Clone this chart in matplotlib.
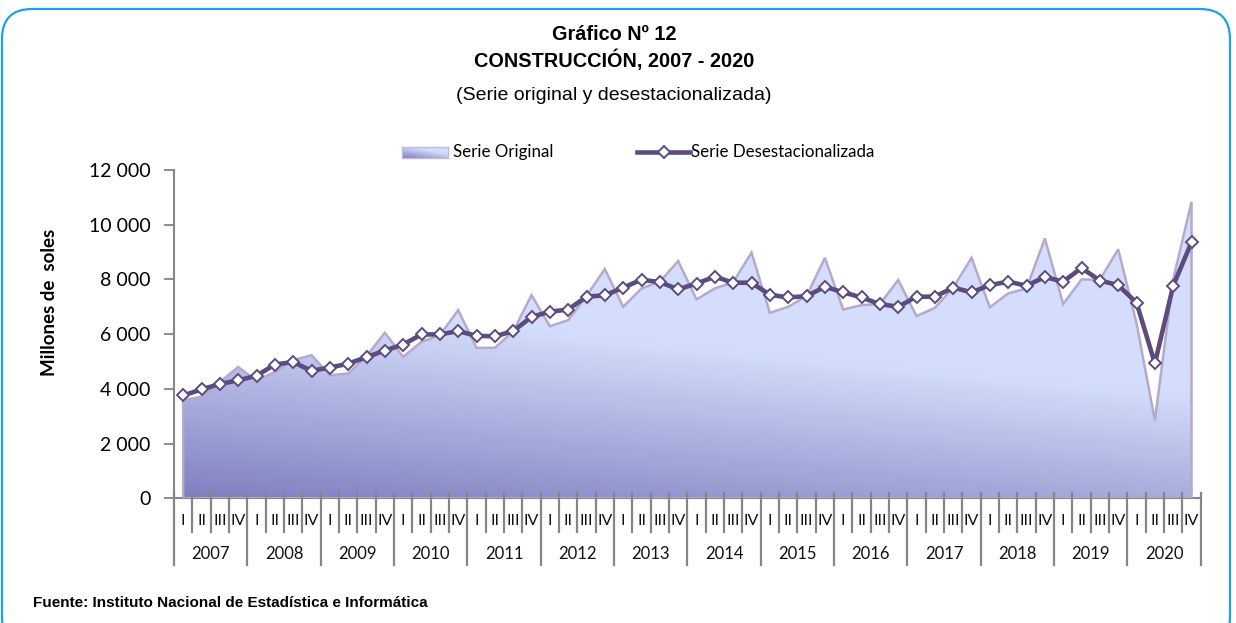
import numpy as np
import matplotlib
matplotlib.use("Agg")
import matplotlib.pyplot as plt
from matplotlib.patches import Polygon, FancyBboxPatch
from matplotlib.lines import Line2D
from matplotlib.colors import to_rgb
import matplotlib.transforms as mtransforms

# ---- data (millones de soles, quarterly) ----
years = ["2007", "2008", "2009", "2010", "2011", "2012", "2013",
         "2014", "2015", "2016", "2017", "2018", "2019", "2020"]
quarters = ["I", "II", "III", "IV"]

serie_original = [
    3590, 3710, 4250, 4800,
    4300, 4620, 5050, 5230,
    4500, 4560, 5200, 6050,
    5170, 5720, 5960, 6880,
    5500, 5500, 6100, 7430,
    6290, 6510, 7400, 8380,
    7000, 7670, 7920, 8670,
    7270, 7670, 7900, 8980,
    6780, 7000, 7390, 8790,
    6900, 7060, 7100, 7980,
    6660, 6960, 7700, 8790,
    6980, 7490, 7670, 9500,
    7100, 8000, 7990, 9100,
    6400, 2850, 8000, 10840,
]

serie_desest = [
    3760, 3980, 4180, 4310,
    4480, 4890, 4980, 4660,
    4780, 4920, 5160, 5400,
    5620, 5990, 5990, 6110,
    5940, 5920, 6110, 6630,
    6820, 6900, 7370, 7420,
    7700, 7990, 7900, 7640,
    7850, 8100, 7880, 7880,
    7440, 7340, 7390, 7730,
    7530, 7340, 7100, 7000,
    7370, 7370, 7700, 7530,
    7790, 7920, 7770, 8090,
    7920, 8420, 7960, 7790,
    7150, 4930, 7770, 9360,
]

y_ticks = [0, 2000, 4000, 6000, 8000, 10000, 12000]

# ---- styling ----
TICK_FONT = ["Lato", "DejaVu Sans"]
TITLE_FONT = ["Liberation Sans", "DejaVu Sans"]
AXIS_GRAY = "#868686"
LINE_PURPLE = "#5b4b7f"
AREA_EDGE = "#b7a9cb"
GRAD_DARK = np.array(to_rgb("#7f7fbf"))
GRAD_LIGHT = np.array(to_rgb("#d4defc"))

W, H = 1236, 623
fig = plt.figure(figsize=(W / 100, H / 100), dpi=100)

# rounded frame around the whole graphic
frame = FancyBboxPatch((0.02, -0.24), 12.28, 6.38,
                       boxstyle="round,pad=0,rounding_size=0.3",
                       transform=fig.dpi_scale_trans, facecolor="none",
                       edgecolor="#1e9ff2", linewidth=1.6, zorder=0)
fig.patches.append(frame)

ax_left, ax_right = 174, 1200.7
ax_bottom, ax_top = 498.3, 170
ax = fig.add_axes([ax_left / W, 1 - ax_bottom / H,
                   (ax_right - ax_left) / W, (ax_bottom - ax_top) / H])

n = len(serie_original)
x = np.arange(n)
xmin, xmax, ymin, ymax = -0.5, n - 0.5, 0, 12000


def gradient_image(nx, ny, slope=0.3, span=0.62):
    u = np.linspace(0, 1, nx)[None, :]
    v = np.linspace(0, 1, ny)[:, None]
    t = np.clip((v + slope * u) / span, 0, 1)[..., None]
    return GRAD_DARK * (1 - t) + GRAD_LIGHT * t


# area for the original series with a gradient fill
verts = [(x[0], 0)] + list(zip(x, serie_original)) + [(x[-1], 0)]
area = Polygon(verts, closed=True, facecolor="none", edgecolor=AREA_EDGE,
               linewidth=1.8, zorder=3)
ax.add_patch(area)
img = ax.imshow(gradient_image(500, 400), extent=(xmin, xmax, ymin, ymax),
                origin="lower", aspect="auto", zorder=2, interpolation="bilinear")
img.set_clip_path(area)

# seasonally adjusted series
ax.plot(x, serie_desest, color=LINE_PURPLE, linewidth=3.3, marker="D",
        markersize=6.2, markerfacecolor="white", markeredgecolor=LINE_PURPLE,
        markeredgewidth=1.4, zorder=5, solid_joinstyle="round")

ax.set_xlim(xmin, xmax)
ax.set_ylim(ymin, ymax)

for side in ("top", "right"):
    ax.spines[side].set_visible(False)
for side in ("left", "bottom"):
    ax.spines[side].set_color(AXIS_GRAY)
    ax.spines[side].set_linewidth(1.5)

ax.set_yticks(y_ticks)
ax.set_yticklabels([f"{v:,.0f}".replace(",", " ") for v in y_ticks],
                   fontfamily=TICK_FONT, fontsize=14)
ax.tick_params(axis="y", direction="out", length=7, width=1.3,
               color=AXIS_GRAY, pad=10)
ax.set_xticks([])

# two-level category axis: quarters and years
ax_h_px = ax_bottom - ax_top
trans = mtransforms.blended_transform_factory(ax.transData, ax.transAxes)
up = 5 / ax_h_px
q_low = -34 / ax_h_px
y_low = -67 / ax_h_px
for k in range(n + 1):
    xb = k - 0.5
    low = y_low if k % 4 == 0 else q_low
    ax.plot([xb, xb], [up, low], transform=trans, color=AXIS_GRAY,
            linewidth=1.6, clip_on=False, zorder=6)

q_y = -(521 - ax_bottom) / ax_h_px
yr_y = -(554 - ax_bottom) / ax_h_px
for i in range(n):
    ax.text(x[i], q_y, quarters[i % 4], transform=trans, ha="center",
            va="center", fontsize=11.5, fontfamily=TICK_FONT, color="#111111")
for j, yr in enumerate(years):
    ax.text(4 * j + 1.5, yr_y, yr, transform=trans, ha="center", va="center",
            fontsize=12, fontfamily=TICK_FONT, color="#111111")

# titles
cx = 614 / W
fig.text(cx, 1 - 34 / H, "Gráfico Nº 12", ha="center", va="center",
         fontsize=14.3, fontweight="bold", fontfamily=TITLE_FONT)
fig.text(cx, 1 - 60 / H, "CONSTRUCCIÓN, 2007 - 2020", ha="center",
         va="center", fontsize=14.3, fontweight="bold", fontfamily=TITLE_FONT)
fig.text(cx, 1 - 95 / H, "(Serie original y desestacionalizada)",
         ha="center", va="center", fontsize=14, fontfamily=TITLE_FONT)

# y axis label
fig.text(50 / W, 1 - 302 / H, "Millones de  soles", rotation=90,
         ha="center", va="center", fontsize=13.5, fontweight="bold",
         fontfamily=TICK_FONT)

# legend
leg_y = 1 - 152 / H
lax = fig.add_axes([402 / W, 1 - 158 / H, 46 / W, 11 / H])
lax.imshow(gradient_image(60, 20, slope=0.8, span=1.2), origin="lower",
           aspect="auto", extent=(0, 1, 0, 1))
lax.set_xticks([])
lax.set_yticks([])
for sp in lax.spines.values():
    sp.set_color("#c4b8d8")
    sp.set_linewidth(1.0)
fig.text(453 / W, leg_y, "Serie Original", ha="left", va="center",
         fontsize=12.2, fontfamily=TICK_FONT)

fig.lines.append(Line2D([637 / W, 690 / W], [leg_y, leg_y],
                        transform=fig.transFigure, color=LINE_PURPLE,
                        linewidth=3.3))
fig.lines.append(Line2D([663.5 / W], [leg_y], transform=fig.transFigure,
                        marker="D", markersize=6.2, markerfacecolor="white",
                        markeredgecolor=LINE_PURPLE, markeredgewidth=1.4,
                        linestyle="none"))
fig.text(691 / W, leg_y, "Serie Desestacionalizada", ha="left", va="center",
         fontsize=12.2, fontfamily=TICK_FONT)

# source
fig.text(33 / W, 1 - 603 / H,
         "Fuente: Instituto Nacional de Estadística e Informática",
         ha="left", va="center", fontsize=11, fontweight="bold",
         fontfamily=TITLE_FONT)

fig.savefig("out.png", dpi=100)
